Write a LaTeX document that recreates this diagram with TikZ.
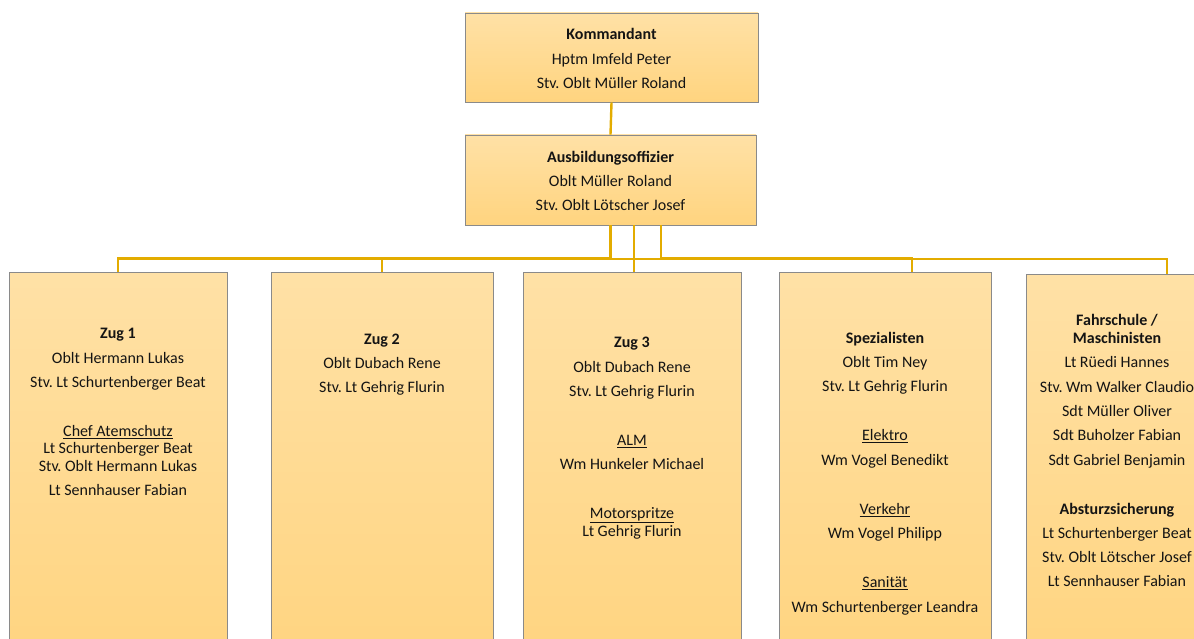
\documentclass[tikz,border=0pt]{standalone}
\usepackage{fontspec}
\setmainfont{Carlito}
\frenchspacing
\usetikzlibrary{calc}
\definecolor{linegold}{HTML}{E3AC00}
\definecolor{boxtop}{HTML}{FFE1A6}
\definecolor{boxbot}{HTML}{FFD47F}
\definecolor{boxline}{HTML}{8A8A8A}
\definecolor{txtcol}{HTML}{141414}
\tikzset{
  orgbox/.style={draw=boxline, line width=0.9pt, top color=boxtop, bottom color=boxbot, rectangle, inner sep=0pt},
  conn/.style={draw=linegold, line width=2.4pt},
  txt/.style={anchor=base, inner sep=0pt, text=txtcol, font=\fontsize{16}{19}\selectfont},
  hd/.style={txt, font=\fontsize{16}{19}\selectfont\bfseries},
}
\newcommand\txtline[4]{\node[txt] (#1) at (#2,#3+6.3) {#4};}
\newcommand\hdline[4]{\node[hd] (#1) at (#2,#3+6.3) {#4};}
\newcommand\ulline[4]{\node[txt] (#1) at (#2,#3+6.3) {\underline{#4}};}
\begin{document}
\begin{tikzpicture}[x=1pt,y=-1pt]
\useasboundingbox (0,0) rectangle (1194,639);
\clip (0,0) rectangle (1194,639);
% boxes
\node[orgbox, minimum width=293pt, minimum height=89pt] (k) at (611.5,57.5) {};
\node[orgbox, minimum width=291pt, minimum height=90pt] (ao) at (610.5,180) {};
\node[orgbox, minimum width=218pt, minimum height=400pt] (z1) at (118,472) {};
\node[orgbox, minimum width=222pt, minimum height=400pt] (z2) at (382,472) {};
\node[orgbox, minimum width=218pt, minimum height=400pt] (z3) at (632,472) {};
\node[orgbox, minimum width=212pt, minimum height=400pt] (sp) at (885,472) {};
\node[orgbox, minimum width=184pt, minimum height=400pt] (fs) at (1118,474) {};
% connectors
\draw[conn] (k.south) -- (ao.north);
\draw[conn] (ao.south) -- ++(0,33) -| (z1.north);
\draw[conn] (ao.south) -- ++(0,33) -| (z2.north);
\draw[conn] ([xshift=23.5pt]ao.south) -- ([xshift=23.5pt]ao.south |- z3.north);
\draw[conn] ([xshift=50.5pt]ao.south) -- ++(0,33) -| ([xshift=27pt]sp.north);
\draw[conn] (ao.south) -- ++(0,33.5) -| ([xshift=49pt]fs.north);
% top texts
\hdline{k1}{611.5}{33}{Kommandant}
\txtline{k2}{611.5}{58}{Hptm Imfeld Peter}
\txtline{k3}{611.5}{82}{Stv. Oblt Müller Roland}
\hdline{a1}{610.5}{156}{Ausbildungsoffizier}
\txtline{a2}{610.5}{180}{Oblt Müller Roland}
\txtline{a3}{610.5}{204}{Stv. Oblt Lötscher Josef}
% Zug 1
\hdline{za1}{118}{332}{Zug 1}
\txtline{za2}{118}{357}{Oblt Hermann Lukas}
\txtline{za3}{118}{381}{Stv. Lt Schurtenberger Beat}
\ulline{za4}{118}{430}{Chef Atemschutz}
\txtline{za5}{118}{447}{Lt Schurtenberger Beat}
\txtline{za6}{118}{465}{Stv. Oblt Hermann Lukas}
\txtline{za7}{118}{489}{Lt Sennhauser Fabian}
% Zug 2
\hdline{zb1}{382}{338}{Zug 2}
\txtline{zb2}{382}{362}{Oblt Dubach Rene}
\txtline{zb3}{382}{386}{Stv. Lt Gehrig Flurin}
% Zug 3
\hdline{zc1}{632}{341}{Zug 3}
\txtline{zc2}{632}{366}{Oblt Dubach Rene}
\txtline{zc3}{632}{390}{Stv. Lt Gehrig Flurin}
\ulline{zc4}{632}{439}{ALM}
\txtline{zc5}{632}{463}{Wm Hunkeler Michael}
\ulline{zc6}{632}{512}{Motorspritze}
\txtline{zc7}{632}{530}{Lt Gehrig Flurin}
% Spezialisten
\hdline{s1}{885}{337}{Spezialisten}
\txtline{s2}{885}{361}{Oblt Tim Ney}
\txtline{s3}{885}{385}{Stv. Lt Gehrig Flurin}
\ulline{s4}{885}{434}{Elektro}
\txtline{s5}{885}{459}{Wm Vogel Benedikt}
\ulline{s6}{885}{508}{Verkehr}
\txtline{s7}{885}{532}{Wm Vogel Philipp}
\ulline{s8}{885}{581}{Sanität}
\txtline{s9}{885}{606}{Wm Schurtenberger Leandra}
% Fahrschule
\hdline{f1}{1117}{319}{Fahrschule /}
\hdline{f2}{1117}{337}{Maschinisten}
\txtline{f3}{1117}{361}{Lt Rüedi Hannes}
\txtline{f4}{1117}{386}{Stv. Wm Walker Claudio}
\txtline{f5}{1117}{410}{Sdt Müller Oliver}
\txtline{f6}{1117}{434}{Sdt Buholzer Fabian}
\txtline{f7}{1117}{459}{Sdt Gabriel Benjamin}
\hdline{f8}{1117}{508}{Absturzsicherung}
\txtline{f9}{1117}{532}{Lt Schurtenberger Beat}
\txtline{f10}{1117}{556}{Stv. Oblt Lötscher Josef}
\txtline{f11}{1117}{580}{Lt Sennhauser Fabian}
\end{tikzpicture}
\end{document}
